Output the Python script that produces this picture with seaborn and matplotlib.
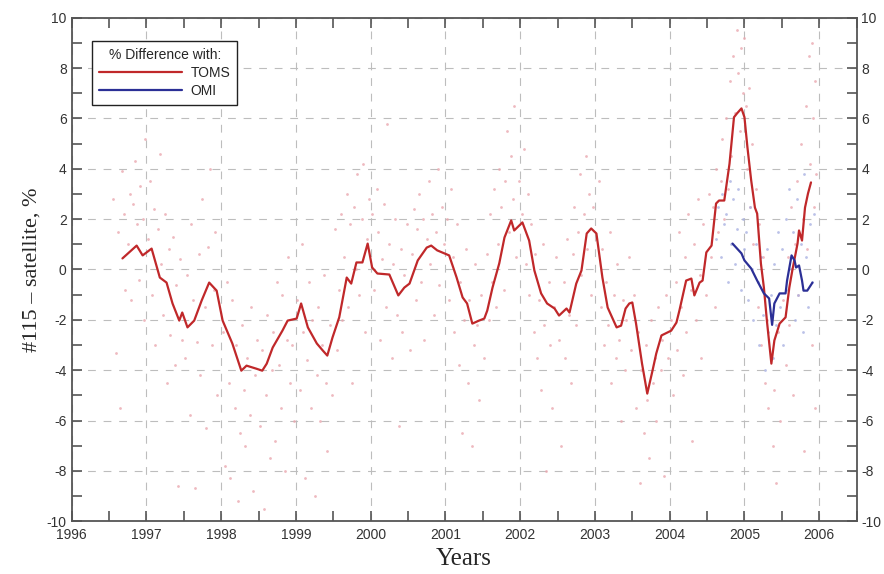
import numpy as np
import pandas as pd
import seaborn as sns
import matplotlib.pyplot as plt
from matplotlib.ticker import MultipleLocator
from matplotlib.lines import Line2D

# smoothed difference curves
toms_year = [1996.68, 1996.87, 1996.95, 1997.07, 1997.18, 1997.27, 1997.35, 1997.44, 1997.48, 1997.55,
             1997.64, 1997.74, 1997.84, 1997.94, 1998.02, 1998.15, 1998.27, 1998.34, 1998.47, 1998.55,
             1998.61, 1998.69, 1998.82, 1998.89, 1999.01, 1999.07, 1999.16, 1999.28, 1999.36, 1999.42,
             1999.49, 1999.58, 1999.68, 1999.74, 1999.81, 1999.89, 1999.96, 2000.02, 2000.09, 2000.25,
             2000.37, 2000.45, 2000.52, 2000.63, 2000.75, 2000.81, 2000.89, 2001.05, 2001.15, 2001.23,
             2001.29, 2001.36, 2001.45, 2001.52, 2001.56, 2001.63, 2001.72, 2001.79, 2001.88, 2001.92,
             2002.03, 2002.12, 2002.19, 2002.28, 2002.36, 2002.46, 2002.52, 2002.62, 2002.66, 2002.75,
             2002.82, 2002.89, 2002.95, 2003.02, 2003.10, 2003.17, 2003.29, 2003.35, 2003.41, 2003.46,
             2003.50, 2003.55, 2003.63, 2003.70, 2003.77, 2003.82, 2003.89, 2004.02, 2004.09, 2004.13,
             2004.22, 2004.29, 2004.33, 2004.40, 2004.44, 2004.49, 2004.56, 2004.62, 2004.66, 2004.73,
             2004.80, 2004.86, 2004.90, 2004.96, 2005.00, 2005.04, 2005.09, 2005.14, 2005.17, 2005.22,
             2005.26, 2005.30, 2005.36, 2005.40, 2005.47, 2005.55, 2005.60, 2005.64, 2005.71, 2005.73,
             2005.77, 2005.81, 2005.85, 2005.89]
toms_diff = [0.44, 0.95, 0.56, 0.83, -0.32, -0.52, -1.35, -2.03, -1.71, -2.30,
             -2.03, -1.23, -0.52, -0.84, -2.03, -2.94, -4.02, -3.82, -3.94, -4.02,
             -3.74, -3.10, -2.43, -2.03, -1.95, -1.35, -2.30, -2.94, -3.22, -3.42,
             -2.70, -1.90, -0.32, -0.56, 0.28, 0.28, 1.03, 0.08, -0.16, -0.20,
             -1.03, -0.72, -0.56, 0.36, 0.87, 0.95, 0.76, 0.56, -0.32, -1.11,
             -1.35, -2.15, -2.03, -1.95, -1.63, -0.72, 0.24, 1.27, 1.95, 1.55,
             1.87, 1.15, -0.04, -0.95, -1.35, -1.55, -1.83, -1.55, -1.71, -0.56,
             -0.04, 1.43, 1.63, 1.43, -0.32, -1.51, -2.30, -2.23, -1.55, -1.35,
             -1.31, -2.15, -3.74, -4.93, -4.02, -3.34, -2.62, -2.43, -2.11, -1.63,
             -0.44, -0.36, -1.03, -0.52, -0.44, 0.68, 0.95, 2.62, 2.74, 2.74,
             4.20, 6.05, 6.20, 6.40, 6.05, 4.85, 3.54, 2.46, 2.22, 0.24,
             -0.72, -2.03, -3.74, -2.82, -2.15, -1.90, -0.72, -0.04, 1.03, 1.55,
             1.15, 2.46, 3.02, 3.46]

omi_year = [2004.84, 2004.96, 2005.00, 2005.09, 2005.17, 2005.26, 2005.33, 2005.37, 2005.40, 2005.47,
            2005.55, 2005.57, 2005.63, 2005.67, 2005.69, 2005.73, 2005.77, 2005.79, 2005.84, 2005.91]
omi_diff = [1.03, 0.64, 0.36, 0.04, -0.44, -0.95, -1.15, -2.20, -1.35, -0.95,
            -0.95, -0.44, 0.56, 0.36, 0.08, 0.16, -0.44, -0.84, -0.84, -0.52]

# individual daily differences (faint dots), approximate positions
toms_pts_year = [
    1996.55, 1996.6, 1996.62, 1996.65, 1996.68, 1996.7, 1996.72, 1996.75, 1996.78, 1996.8, 1996.82, 1996.85,
    1996.88, 1996.9, 1996.92, 1996.95, 1996.97, 1996.98,
    1997.02, 1997.05, 1997.08, 1997.1, 1997.12, 1997.15, 1997.18, 1997.2, 1997.22, 1997.25, 1997.28, 1997.3,
    1997.32, 1997.35, 1997.38, 1997.4, 1997.42, 1997.45, 1997.48,
    1997.52, 1997.55, 1997.58, 1997.6, 1997.62, 1997.65, 1997.68, 1997.7, 1997.72, 1997.75, 1997.78, 1997.8,
    1997.82, 1997.85, 1997.88, 1997.9, 1997.92, 1997.95,
    1998.02, 1998.05, 1998.08, 1998.1, 1998.12, 1998.15, 1998.18, 1998.2, 1998.22, 1998.25, 1998.28, 1998.3,
    1998.32, 1998.35, 1998.38, 1998.4, 1998.42, 1998.45, 1998.48,
    1998.52, 1998.55, 1998.58, 1998.6, 1998.62, 1998.65, 1998.68, 1998.7, 1998.72, 1998.75, 1998.78, 1998.8,
    1998.82, 1998.85, 1998.88, 1998.9, 1998.92, 1998.95, 1998.98,
    1999.02, 1999.05, 1999.08, 1999.1, 1999.12, 1999.15, 1999.18, 1999.2, 1999.22, 1999.25, 1999.28, 1999.3,
    1999.32, 1999.35, 1999.38, 1999.4, 1999.42, 1999.45, 1999.48,
    1999.52, 1999.55, 1999.58, 1999.6, 1999.62, 1999.65, 1999.68, 1999.7, 1999.72, 1999.75, 1999.78, 1999.8,
    1999.82, 1999.85, 1999.88, 1999.9, 1999.92, 1999.95, 1999.98,
    2000.02, 2000.05, 2000.08, 2000.1, 2000.12, 2000.15, 2000.18, 2000.2, 2000.22, 2000.25, 2000.28, 2000.3,
    2000.32, 2000.35, 2000.38, 2000.4, 2000.42, 2000.45, 2000.48,
    2000.52, 2000.55, 2000.58, 2000.6, 2000.62, 2000.65, 2000.68, 2000.7, 2000.72, 2000.75, 2000.78, 2000.8,
    2000.82, 2000.85, 2000.88, 2000.9, 2000.92, 2000.95, 2000.98,
    2001.02, 2001.05, 2001.08, 2001.1, 2001.12, 2001.15, 2001.18, 2001.2, 2001.22, 2001.25, 2001.28, 2001.3,
    2001.32, 2001.35, 2001.38, 2001.4, 2001.42, 2001.45, 2001.48,
    2001.52, 2001.55, 2001.58, 2001.6, 2001.62, 2001.65, 2001.68, 2001.7, 2001.72, 2001.75, 2001.78, 2001.8,
    2001.82, 2001.85, 2001.88, 2001.9, 2001.92, 2001.95, 2001.98,
    2002.02, 2002.05, 2002.08, 2002.1, 2002.12, 2002.15, 2002.18, 2002.2, 2002.22, 2002.25, 2002.28, 2002.3,
    2002.32, 2002.35, 2002.38, 2002.4, 2002.42, 2002.45, 2002.48,
    2002.52, 2002.55, 2002.58, 2002.6, 2002.62, 2002.65, 2002.68, 2002.7, 2002.72, 2002.75, 2002.78, 2002.8,
    2002.82, 2002.85, 2002.88, 2002.9, 2002.92, 2002.95, 2002.98,
    2003.02, 2003.05, 2003.08, 2003.1, 2003.12, 2003.15, 2003.18, 2003.2, 2003.22, 2003.25, 2003.28, 2003.3,
    2003.32, 2003.35, 2003.38, 2003.4, 2003.42, 2003.45, 2003.48,
    2003.52, 2003.55, 2003.58, 2003.6, 2003.62, 2003.65, 2003.68, 2003.7, 2003.72, 2003.75, 2003.78, 2003.8,
    2003.82, 2003.85, 2003.88, 2003.9, 2003.92, 2003.95, 2003.98,
    2004.02, 2004.05, 2004.08, 2004.1, 2004.12, 2004.15, 2004.18, 2004.2, 2004.22, 2004.25, 2004.28, 2004.3,
    2004.32, 2004.35, 2004.38, 2004.4, 2004.42, 2004.45, 2004.48,
    2004.52, 2004.55, 2004.58, 2004.6, 2004.62, 2004.65, 2004.68, 2004.7, 2004.72, 2004.75, 2004.78, 2004.8,
    2004.82, 2004.85, 2004.87, 2004.9, 2004.92, 2004.94, 2004.96, 2004.98,
    2005.0, 2005.02, 2005.04, 2005.06, 2005.08, 2005.1, 2005.12, 2005.15, 2005.18, 2005.2, 2005.22, 2005.25,
    2005.28, 2005.3, 2005.32, 2005.35, 2005.38, 2005.4, 2005.42, 2005.45, 2005.48,
    2005.52, 2005.55, 2005.58, 2005.6, 2005.62, 2005.65, 2005.68, 2005.7, 2005.72, 2005.75, 2005.78, 2005.8,
    2005.82, 2005.84, 2005.86, 2005.88, 2005.9, 2005.91, 2005.92, 2005.93, 2005.94, 2005.95, 2005.96]
toms_pts_diff = [
    2.8, -3.3, 1.5, -5.5, 3.9, 2.2, -0.8, 1.0, 3.0, -1.2, 2.6, 4.3,
    1.8, -0.4, 3.3, 2.0, -2.0, 5.2,
    1.2, 3.5, -1.0, 2.4, -3.0, 1.6, 4.6, 0.2, -1.8, 2.2, -4.5, 0.8,
    -2.6, 1.3, -3.8, -0.6, -8.6, 0.4, -2.8,
    -3.5, -0.2, -5.8, 1.8, -1.2, -8.7, -2.9, 0.6, -4.2, 2.8, -1.5, -6.3,
    0.9, 4.0, -3.0, -0.8, 1.5, -5.0,
    -2.5, -7.8, -0.5, -4.5, -8.3, -1.2, -5.5, -3.0, -9.2, -6.5, -2.2, -4.8,
    -7.0, -3.5, -5.8, -1.5, -8.8, -4.2, -2.8,
    -6.2, -3.2, -9.5, -5.0, -1.8, -7.5, -4.0, -2.5, -6.8, -0.5, -3.8, -5.5,
    -1.0, -8.0, -2.8, 0.5, -4.5, -3.0, -6.0,
    -1.2, -4.8, 1.0, -2.5, -8.3, -3.6, -0.5, -5.5, -2.0, -9.0, -4.2, -1.5,
    -6.0, -3.0, -0.2, -4.5, -7.2, -2.2, -5.0,
    1.6, -3.2, -0.8, 2.2, -2.0, 0.5, 3.0, -1.5, 1.8, -4.5, 2.5, 0.0,
    3.8, -1.0, 2.0, 4.2, -2.5, 1.2, 2.8,
    2.2, -0.8, 3.2, 1.5, -2.8, 0.4, 2.6, -1.5, 5.8, 1.0, -3.5, 0.2,
    2.0, -1.8, -6.2, 0.8, -2.5, -0.2, 1.8,
    -3.2, 0.6, 2.4, -1.2, 1.6, 3.0, -0.5, 2.0, -2.8, 1.2, 3.5, 0.2,
    2.2, -1.8, 1.5, 4.0, -0.6, 2.5, 1.0,
    2.0, -1.2, 3.2, 0.5, -2.5, 1.8, -3.8, -0.5, -6.5, -2.0, 0.8, -4.5,
    -1.2, -7.0, -3.0, 0.2, -2.2, -5.2, -1.0,
    -3.5, 0.6, -2.0, 2.2, -0.5, 3.2, -1.5, 1.0, 4.0, 2.5, -0.8, 3.5,
    5.5, 1.5, 4.5, 2.8, 6.5, 0.5, 3.5,
    2.2, 4.8, 0.2, 3.0, -1.0, 1.8, -2.5, 0.6, -3.5, -1.2, -4.8, 1.0,
    -2.2, -8.0, -0.5, -3.0, -5.5, -1.5, 0.5,
    -2.8, -7.0, -0.5, -3.5, 1.2, -1.8, -4.5, 0.6, 2.5, -2.2, 1.5, 3.8,
    -0.2, 2.2, 4.5, 0.8, 3.0, -1.0, 2.5,
    1.2, 3.5, -1.5, 0.8, -3.0, -0.5, -2.2, 1.5, -4.5, -1.0, -3.5, 0.2,
    -2.8, -6.0, -1.2, -4.0, -2.0, 0.5, -3.2,
    -1.0, -5.5, -2.5, -8.5, -4.0, -6.5, -3.0, -5.2, -7.5, -2.0, -4.5, -3.5,
    -6.0, -1.5, -4.0, -2.8, -8.2, -1.0, -3.5,
    -2.0, -5.0, -0.5, -3.2, 1.5, -1.5, -4.2, 0.5, -2.5, 2.2, -0.8, -6.8,
    1.0, -2.0, 2.8, -0.2, -3.5, 1.8, -1.0,
    3.0, 0.5, 2.5, -1.5, 4.0, 1.5, 3.5, 5.2, 2.0, 6.0, 3.2, 7.5,
    4.5, 8.5, 6.2, 9.5, 7.8, 5.5, 8.8, 7.0,
    9.2, 6.5, 4.0, 7.2, 2.5, 5.0, 1.0, 3.2, -1.5, 1.8, -3.0, 0.5,
    -4.5, -2.0, -5.5, -3.5, -7.0, -4.8, -8.5, -2.5, -6.0,
    -1.2, -3.8, 0.5, -2.2, 2.5, -5.0, 1.0, 3.5, -1.0, 5.0, 2.0, -7.2,
    6.5, 0.8, 8.5, 4.2, -3.0, 9.0, 6.0, 2.5, 7.5, -5.5, 3.8]

omi_pts_year = [
    2004.62, 2004.65, 2004.68, 2004.7, 2004.72, 2004.75, 2004.78, 2004.8, 2004.82, 2004.85, 2004.88, 2004.9,
    2004.92, 2004.95, 2004.98, 2005.0, 2005.02, 2005.05, 2005.08, 2005.1, 2005.12, 2005.15, 2005.18, 2005.2,
    2005.22, 2005.25, 2005.28, 2005.3, 2005.32, 2005.35, 2005.38, 2005.4, 2005.42, 2005.45, 2005.48, 2005.5,
    2005.52, 2005.55, 2005.58, 2005.6, 2005.62, 2005.65, 2005.68, 2005.7, 2005.72, 2005.75, 2005.78, 2005.8,
    2005.82, 2005.85, 2005.88, 2005.9, 2005.93]
omi_pts_diff = [
    1.2, 2.5, 0.5, 3.0, 1.8, 2.2, -0.5, 3.5, 1.0, 2.8, 0.2, 1.6,
    3.2, -0.8, 2.0, 0.8, 1.5, -1.2, 2.5, 0.0, -2.0, 1.0, -0.5, -3.0,
    0.5, -1.8, -4.0, 0.8, -2.5, -1.0, -3.5, 0.2, -2.2, 1.5, -1.5, 0.8,
    -3.0, 2.0, -0.8, 3.2, 0.0, 1.5, -2.0, 2.8, -1.0, 1.0, -2.5, 3.8,
    0.5, -1.5, 1.8, -0.5, 2.2]

TOMS_COLOR = '#c0282a'
OMI_COLOR = '#2b2f96'

sns.set_style("ticks")
plt.rcParams['font.family'] = ['Liberation Sans', 'DejaVu Sans']
plt.rcParams['axes.unicode_minus'] = False

fig, ax = plt.subplots(figsize=(8.84, 5.74), dpi=100)
fig.subplots_adjust(left=0.081, right=0.969, top=0.969, bottom=0.092)

sns.scatterplot(x=toms_pts_year, y=toms_pts_diff, ax=ax, color='#eaa8b0', s=4,
                linewidth=0, alpha=0.8, legend=False, zorder=2)
sns.scatterplot(x=omi_pts_year, y=omi_pts_diff, ax=ax, color='#aab2e2', s=4,
                linewidth=0, alpha=0.8, legend=False, zorder=2)

toms_df = pd.DataFrame({'year': toms_year, 'diff': toms_diff})
omi_df = pd.DataFrame({'year': omi_year, 'diff': omi_diff})
sns.lineplot(data=toms_df, x='year', y='diff', ax=ax, color=TOMS_COLOR, lw=1.6,
             sort=False, estimator=None, zorder=3)
sns.lineplot(data=omi_df, x='year', y='diff', ax=ax, color=OMI_COLOR, lw=1.6,
             sort=False, estimator=None, zorder=4)

ax.set_xlim(1996, 2006.5)
ax.set_ylim(-10, 10)
ax.xaxis.set_major_locator(MultipleLocator(1))
ax.xaxis.set_minor_locator(MultipleLocator(0.5))
ax.yaxis.set_major_locator(MultipleLocator(2))
ax.yaxis.set_minor_locator(MultipleLocator(1))
ax.set_xticks(range(1996, 2007))
ax.set_xticklabels([str(y) for y in range(1996, 2007)])

ax.grid(True, which='major', color='#bdbdbd', linestyle=(0, (7, 7)), lw=0.8, zorder=1)
ax.tick_params(which='both', direction='in', top=True, right=True, labelright=True,
               length=7, width=1.2, color='#555555', labelsize=10, labelcolor='#333333')
ax.tick_params(axis='x', pad=5)
for sp in ax.spines.values():
    sp.set_color('#555555')
    sp.set_linewidth(1.3)

ax.set_xlabel('Years', family=['Liberation Serif', 'DejaVu Serif'], fontsize=18, labelpad=4)
ax.set_ylabel('#115 \u2013 satellite, %', family=['Liberation Serif', 'DejaVu Serif'], fontsize=16, labelpad=4)

handles = [Line2D([], [], color=TOMS_COLOR, lw=1.6), Line2D([], [], color=OMI_COLOR, lw=1.6)]
leg = ax.legend(handles, ['TOMS', 'OMI'], title='% Difference with:', loc='upper left',
                bbox_to_anchor=(0.026, 0.954), borderaxespad=0, fontsize=10, title_fontsize=10,
                handlelength=6.0, handletextpad=0.6, borderpad=0.5, labelspacing=0.3,
                fancybox=False, framealpha=1, edgecolor='#222222')
leg.get_frame().set_linewidth(1.0)
leg.set_zorder(5)

plt.savefig('out.png', dpi=100)
